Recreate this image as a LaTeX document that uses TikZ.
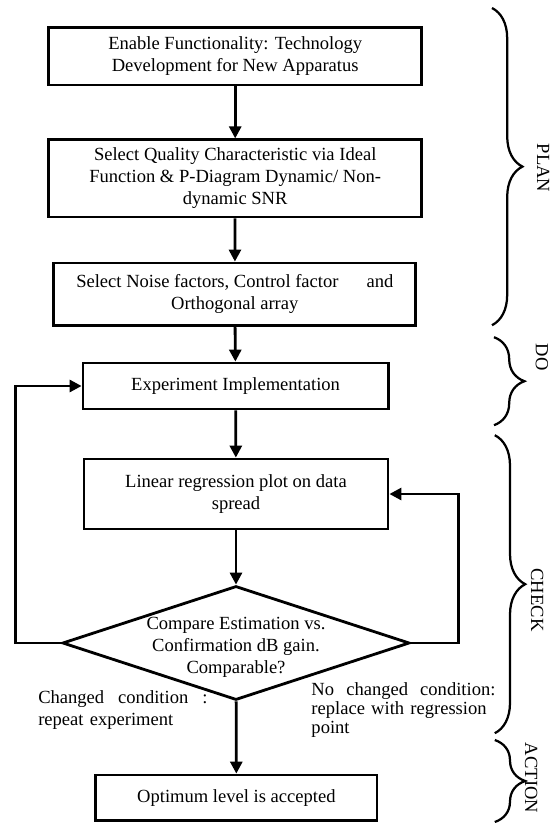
\documentclass[tikz,border=0pt]{standalone}
\usepackage{fontspec}
\setmainfont{Liberation Serif}
\usetikzlibrary{arrows.meta,shapes.geometric,decorations.pathreplacing}

\begin{document}
\begin{tikzpicture}[
    stage/.style={rectangle, draw, line width=2pt, align=center, inner sep=2pt, font=\fontsize{13.2}{15.6}\selectfont},
    decision/.style={diamond, draw, line width=2pt, inner sep=0pt, minimum width=8.68cm, minimum height=2.85cm},
    note/.style={align=left, inner sep=0pt, font=\fontsize{13.2}{15.6}\selectfont},
    phase/.style={rotate=-90, inner sep=0pt, font=\fontsize{13.2}{15.6}\selectfont},
    arrow/.style={-{Triangle[length=0.3cm, width=0.3cm]}, line width=2pt},
    curly/.style={decorate, decoration={brace, amplitude=0.76cm}, line width=1.6pt}
]
\useasboundingbox (0,0) rectangle (13.95,-20.575);

\node[stage, minimum width=9.33cm, minimum height=1.43cm] (enable) at (5.88,-1.41) {Enable Functionality: Technology\\Development for New Apparatus};
\node[stage, minimum width=9.33cm, minimum height=1.93cm] (quality) at (5.88,-4.46) {Select Quality Characteristic via Ideal\\Function \& P-Diagram Dynamic/ Non-\\dynamic SNR};
\node[stage, minimum width=9.05cm, minimum height=1.57cm] (noise) at (5.87,-7.36) {Select Noise factors, Control factor\hspace{0.7cm}and\\Orthogonal array};
\node[stage, minimum width=7.63cm, minimum height=1.15cm] (expt) at (5.89,-9.65) {Experiment Implementation};
\node[stage, minimum width=7.6cm, minimum height=1.75cm] (regr) at (5.9,-12.35) {Linear regression plot on data\\spread};
\node[decision, label={[note, align=center, yshift=-0.1cm]center:{Compare Estimation vs.\\Confirmation dB gain.\\Comparable?}}] (cmp) at (5.9,-16.075) {};
\node[stage, minimum width=7.03cm, minimum height=1.13cm] (optimum) at (5.91,-19.94) {Optimum level is accepted};

\node[note, text width=4.23cm, anchor=north west] (chg) at (0.95,-17.27) {Changed\hfill condition\hfill :\\repeat experiment};
\node[note, text width=4.6cm, anchor=north west, font=\fontsize{13.2}{13.5}\selectfont] (nochg) at (7.78,-17.05) {No\hfill changed\hfill condition:\\replace with regression\\point};

\draw[arrow] (enable) -- (quality);
\draw[arrow] (quality) -- (noise);
\draw[arrow] (noise) -- (expt);
\draw[arrow] (expt) -- (regr);
\draw[arrow] (regr) -- (cmp);
\draw[arrow] (cmp) -- (optimum);
\draw[arrow] (cmp.west) -- ++(-1.13,0) |- (expt.west);
\draw[arrow] (cmp.east) -- ++(1.18,0) |- (regr.east);

% phases
\coordinate (plantop) at (12.3,-0.2);
\coordinate (planbot) at (12.3,-8.13);
\coordinate (dotop) at (12.35,-8.43);
\coordinate (dobot) at (12.35,-10.63);
\coordinate (checktop) at (12.37,-10.88);
\coordinate (checkbot) at (12.37,-18.33);
\coordinate (actiontop) at (12.37,-18.5);
\coordinate (actionbot) at (12.37,-20.55);
\draw[curly] (plantop) -- (planbot);
\draw[curly] (dotop) -- (dobot);
\draw[curly] (checktop) -- (checkbot);
\draw[curly] (actiontop) -- (actionbot);

\node[phase] (plan) at (13.58,-4.2) {PLAN};
\node[phase] (do) at (13.55,-8.93) {DO};
\node[phase] (check) at (13.43,-15.0) {CHECK};
\node[phase] (action) at (13.28,-19.45) {ACTION};
\end{tikzpicture}
\end{document}
